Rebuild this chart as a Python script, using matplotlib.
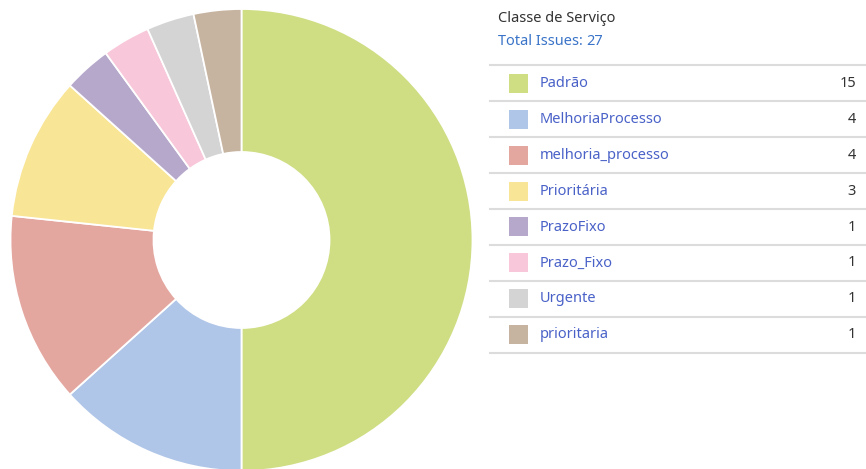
import matplotlib.pyplot as plt

plt.rcParams['font.family'] = ['Noto Sans', 'DejaVu Sans']

# service classes and issue counts
categories = ['Padrão', 'MelhoriaProcesso', 'melhoria_processo', 'Prioritária',
              'PrazoFixo', 'Prazo_Fixo', 'Urgente', 'prioritaria']
counts = [15, 4, 4, 3, 1, 1, 1, 1]
colors = ['#cfdd83', '#b0c6e8', '#e4a7a0', '#f9e596',
          '#b6a8cb', '#f8c7d9', '#d4d4d4', '#c6b3a0']
total_issues = 27

W, H = 866, 469
fig = plt.figure(figsize=(W / 100, H / 100), dpi=100)
ax = fig.add_axes([0, 0, 1, 1])

# donut, drawn clockwise from 12 o'clock (y axis is flipped, so counterclock=True)
ax.pie(counts, colors=colors, center=(241.5, 240), radius=231,
       startangle=-90, counterclock=True, frame=True,
       wedgeprops=dict(width=143, edgecolor='white', linewidth=1.3))
ax.set_xlim(0, W)
ax.set_ylim(H, 0)
ax.axis('off')

fs = 10.5

# header
ax.text(498, 18, 'Classe de Serviço', fontsize=fs, color='#333333', va='center')
t = ax.text(498, 41, 'Total Issues: ', fontsize=fs, color='#3a74c8', va='center')
fig.canvas.draw()
bb = t.get_window_extent()
x_end = ax.transData.inverted().transform((bb.x1, bb.y0))[0]
ax.text(x_end, 41, str(total_issues), fontsize=fs, color='#3a74c8',
        fontweight='bold', va='center')

# legend table
row_top = 65
row_h = 36
ax.plot([490, 866], [row_top, row_top], color='#dcdcdc', lw=1.5)
for i, (name, n, c) in enumerate(zip(categories, counts, colors)):
    y0 = row_top + i * row_h
    yc = y0 + row_h / 2
    ax.add_patch(plt.Rectangle((509, yc - 9.5), 19, 19, color=c, lw=0))
    ax.text(540, yc, name, fontsize=fs, color='#4a62c8', va='center')
    ax.text(856, yc, str(n), fontsize=fs, color='#333333', va='center', ha='right')
    ax.plot([490, 866], [y0 + row_h, y0 + row_h], color='#dcdcdc', lw=1.5)

fig.savefig('out.png', dpi=100)
